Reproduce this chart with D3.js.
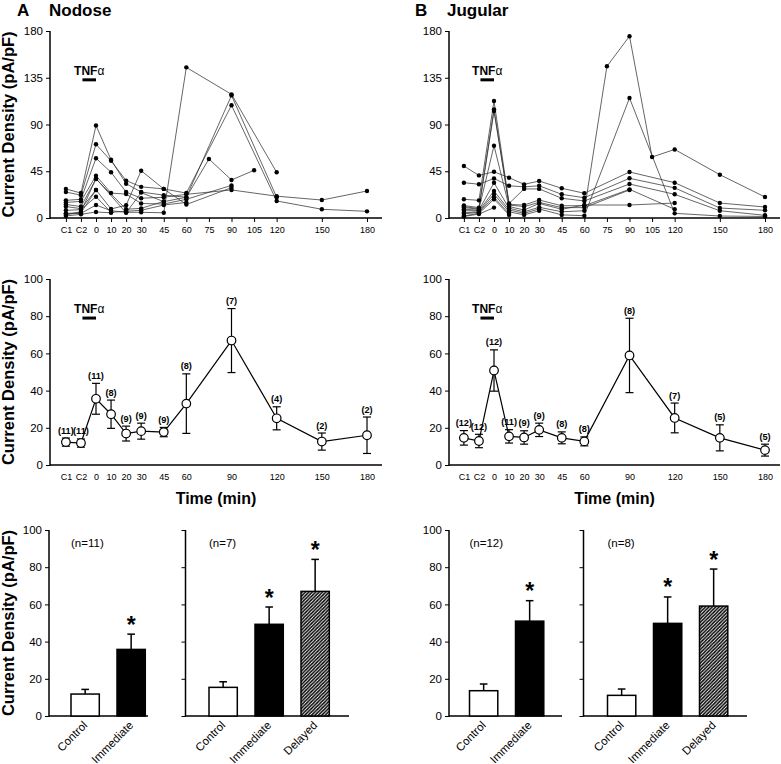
<!DOCTYPE html>
<html><head><meta charset="utf-8">
<script src="https://cdn.jsdelivr.net/npm/d3@7"></script>
<style>body{margin:0;background:#fff}svg{display:block;font-family:Arial,"Liberation Sans",sans-serif}</style>
</head><body><svg id="c" width="781" height="764"></svg>
<script>
// ---------- DATA ----------
const timeKeys = [-20,-10,0,10,20,30,45,60,75,90,105,120,150,180];
const topTickLabels = ["C1","C2","0","10","20","30","45","60","75","90","105","120","150","180"];
const meanTimes = [-20,-10,0,10,20,30,45,60,90,120,150,180];
const meanTickLabels = ["C1","C2","0","10","20","30","45","60","90","120","150","180"];
const topYTicks = [0,45,90,135,180];
const pctTicks = [0,20,40,60,80,100];

// individual cells (values at timeKeys; null = not recorded)
const nodoseCells = [
  [4,4.5,12.5,7,5.5,5.5,5,145,null,119,null,44,null,null],
  [28,24,89,56,33,25,22,20,null,118,null,20,null,null],
  [25,22,71,55,36,30,28,24,null,108.5,null,16.4,8.4,6.4],
  [17,18,57.5,44,25,19,20,22.8,null,27,null,21,17.3,26],
  [15,16,40.7,24,23,14,13.5,18,null,31.4,null,null,null,null],
  [11,9,27,8.7,12.3,45.5,28,13,null,29.2,null,null,null,null],
  [13,11,37.5,null,8.4,9.3,16,null,null,null,null,null,null,null],
  [7.4,8,20.5,5.5,6.5,7.4,12.5,15,null,null,null,null,null,null],
  [3,6,38,null,5,24.5,15.7,20,56.8,36.6,45.9,null,null,null],
  [2,3.5,5.8,5,null,null,null,null,null,null,null,null,null,null],
  [4.5,5,27,null,null,null,null,null,null,null,null,null,null,null]
];
const jugularCells = [
  [50,41,44.5,38.8,32.4,35.6,28.6,23.8,null,44.3,null,34,14.4,10.6],
  [34,32.5,38,31,30,31,22.8,19.5,null,38.2,null,29,9.6,7.4],
  [18,17,112.6,14,28,28,19,16.4,null,32.7,null,22.8,7,2.6],
  [12,10,104.6,13,12.5,17.3,11.8,11.8,null,27.6,null,8.4,null,null],
  [11,9,103,12.5,11,15,10,10,null,27,null,null,null,null],
  [10,8.5,69.6,11,7.7,14,8.4,12.5,null,12.5,null,14.4,null,null],
  [8.5,7.5,34,9.3,6,10.3,6,7,146,175,58.7,66,41.7,20.2],
  [7,7,26,7.7,4.5,8.7,3,2.2,null,115.5,null,4.5,1.9,1.5],
  [5,6,23,6,3,7,null,null,null,null,null,null,null,null],
  [4,5.5,20,4,null,null,null,null,null,null,null,null,null,null],
  [2,4.5,18,3,null,null,null,null,null,null,null,null,null,null],
  [1.5,3.8,10,null,null,null,null,null,null,null,null,null,null,null]
];

// means +/- SEM at meanTimes
const nodoseMean = [12.3,11.8,35.6,27.3,16.9,18.2,17.7,33,66.9,25.1,12.6,16];
const nodoseSem  = [2.2,2.2,8.3,7.6,4,4.3,2.5,16,17.2,6.2,4.6,9.8];
const nodoseN    = ["(11)","(11)","(11)","(8)","(9)","(9)","(9)","(8)","(7)","(4)","(2)","(2)"];
const jugularMean = [14.6,12.9,50.8,15.4,14.8,18.9,14.6,12.7,58.9,25.3,14.6,8];
const jugularSem  = [3.9,3.6,11.1,3.6,3.6,3.6,3.2,2.4,20,8,7,3.2];
const jugularN    = ["(12)","(12)","(12)","(11)","(9)","(9)","(8)","(8)","(8)","(7)","(5)","(5)"];

// summary bars
const cats2 = ["Control","Immediate"];
const cats3 = ["Control","Immediate","Delayed"];
const nodoseImmMean = [11.8,35.8];   const nodoseImmSem = [2.5,8.2];
const nodoseDelMean = [15.4,49.3,67]; const nodoseDelSem = [3,9.3,17.2];
const jugularImmMean = [13.6,51];    const jugularImmSem = [3.6,11];
const jugularDelMean = [11.1,49.8,59.1]; const jugularDelSem = [3.4,14.2,19.9];
const nLabels = ["(n=11)","(n=7)","(n=12)","(n=8)"];

// ---------- DRAW ----------
const svg = d3.select("#c");
const defs = svg.append("defs");
const pat = defs.append("pattern").attr("id","hatch").attr("patternUnits","userSpaceOnUse")
  .attr("width",3.4).attr("height",3.4);
pat.append("rect").attr("width",3.4).attr("height",3.4).attr("fill","#fff");
pat.append("path").attr("d","M-1,1 L1,-1 M0,3.4 L3.4,0 M2.4,4.4 L4.4,2.4")
  .attr("stroke","#000").attr("stroke-width",1.5);

const yTop = d3.scaleLinear([0,180],[218,31]);
const yMid = d3.scaleLinear([0,100],[465,279]);
const yBar = d3.scaleLinear([0,100],[716,530]);

function styleAxis(g, fs){
  g.select(".domain").remove();
  g.selectAll(".tick line").attr("stroke","#000").attr("stroke-width",1);
  g.selectAll(".tick text").attr("font-size",fs).attr("fill","#000").attr("font-family","Arial, 'Liberation Sans', sans-serif");
}
function yAxis(x0, scale, ticks, showLabels){
  const g = svg.append("g").attr("transform",`translate(${x0},0)`)
    .call(d3.axisLeft(scale).tickValues(ticks).tickSize(4).tickPadding(3).tickFormat(showLabels? d3.format("d") : ""));
  styleAxis(g, 11.5);
  const r = scale.range();
  svg.append("line").attr("x1",x0).attr("x2",x0).attr("y1",r[0]+0.75).attr("y2",r[1])
    .attr("stroke","#000").attr("stroke-width",1.5);
}
function xAxisLine(x0, x1, y){
  svg.append("line").attr("x1",x0).attr("x2",x1).attr("y1",y).attr("y2",y)
    .attr("stroke","#000").attr("stroke-width",1.5);
}
function yTitle(cy){
  svg.append("text").attr("transform",`translate(14,${cy}) rotate(-90)`)
    .attr("text-anchor","middle").attr("font-weight","bold").attr("font-size",16.5)
    .text("Current Density (pA/pF)");
}
function tnf(x, y, yval){
  const bx0 = x(-9), bx1 = x(0), by = y(yval);
  svg.append("rect").attr("x",bx0).attr("y",by-1.5).attr("width",bx1-bx0).attr("height",3).attr("fill","#000");
  const t = svg.append("text").attr("x",(bx0+bx1)/2).attr("y",by-5).attr("text-anchor","middle").attr("font-size",12);
  t.append("tspan").attr("font-weight","bold").text("TNF");
  t.append("tspan").text("α");
}

function topPanel(cells, xs, axX, axEnd){
  yAxis(axX, yTop, topYTicks, true);
  const gx = svg.append("g").attr("transform",`translate(0,${yTop(0)})`)
    .call(d3.axisBottom(xs).tickValues(timeKeys).tickSize(4).tickPadding(5).tickFormat((d,i)=>topTickLabels[i]));
  styleAxis(gx, 9);
  xAxisLine(axX, axEnd, yTop(0));
  const line = d3.line().defined(d=>d.v!=null).x(d=>xs(d.t)).y(d=>yTop(d.v));
  cells.forEach(c=>{
    const pts = c.map((v,i)=>({t:timeKeys[i], v})).filter(d=>d.v!=null);
    svg.append("path").datum(pts).attr("d",line).attr("fill","none").attr("stroke","#333").attr("stroke-width",0.75);
  });
  cells.forEach(c=>{
    const pts = c.map((v,i)=>({t:timeKeys[i], v})).filter(d=>d.v!=null);
    svg.append("g").selectAll("circle").data(pts).join("circle")
      .attr("cx",d=>xs(d.t)).attr("cy",d=>yTop(d.v)).attr("r",2.2).attr("fill","#000");
  });
  tnf(xs, yTop, 133);
}

function meanPanel(means, sems, ns, xs, axX, axEnd){
  yAxis(axX, yMid, pctTicks, true);
  const gx = svg.append("g").attr("transform",`translate(0,${yMid(0)})`)
    .call(d3.axisBottom(xs).tickValues(meanTimes).tickSize(0).tickPadding(8.5).tickFormat((d,i)=>meanTickLabels[i]));
  styleAxis(gx, 9);
  xAxisLine(axX, axEnd, yMid(0));
  const data = meanTimes.map((t,i)=>({t, m:means[i], s:sems[i], n:ns[i]}));
  const g = svg.append("g");
  data.forEach(d=>{
    const x = xs(d.t);
    g.append("line").attr("x1",x).attr("x2",x).attr("y1",yMid(d.m-d.s)).attr("y2",yMid(d.m+d.s)).attr("stroke","#000").attr("stroke-width",1.2);
    [d.m-d.s, d.m+d.s].forEach(v=>g.append("line").attr("x1",x-4).attr("x2",x+4).attr("y1",yMid(v)).attr("y2",yMid(v)).attr("stroke","#000").attr("stroke-width",1.2));
  });
  g.append("path").datum(data).attr("d",d3.line().x(d=>xs(d.t)).y(d=>yMid(d.m)))
    .attr("fill","none").attr("stroke","#000").attr("stroke-width",1.2);
  g.selectAll("circle").data(data).join("circle").attr("cx",d=>xs(d.t)).attr("cy",d=>yMid(d.m))
    .attr("r",4.3).attr("fill","#fff").attr("stroke","#000").attr("stroke-width",1.2);
  g.selectAll("text.n").data(data).join("text").attr("class","n")
    .attr("x",d=>xs(d.t)).attr("y",d=>yMid(d.m+d.s)-4.5).attr("text-anchor","middle")
    .attr("font-size",9.2).attr("font-weight","bold").text(d=>d.n);
  tnf(xs, yMid, 79);
  svg.append("text").attr("x",(axX+axEnd)/2).attr("y",503.5).attr("text-anchor","middle")
    .attr("font-size",16).attr("font-weight","bold").text("Time (min)");
}

function barPanel(cats, means, sems, axX, firstBar, axEnd, showLabels, nLabel){
  yAxis(axX, yBar, pctTicks, showLabels);
  xAxisLine(axX, axEnd, yBar(0));
  const step = 46, pin = 0.385;
  const xb = d3.scaleBand().domain(cats).range([firstBar, firstBar + step*(cats.length - pin)]).paddingInner(pin).paddingOuter(0);
  const fills = {Control:"#fff", Immediate:"#000", Delayed:"url(#hatch)"};
  const data = cats.map((c,i)=>({c, m:means[i], s:sems[i]}));
  const g = svg.append("g");
  data.forEach(d=>{
    const cx = xb(d.c) + xb.bandwidth()/2, top = yBar(d.m+d.s);
    g.append("line").attr("x1",cx).attr("x2",cx).attr("y1",yBar(d.m)).attr("y2",top).attr("stroke","#000").attr("stroke-width",1.5);
    g.append("line").attr("x1",cx-3.8).attr("x2",cx+3.8).attr("y1",top).attr("y2",top).attr("stroke","#000").attr("stroke-width",1.5);
    if(d.c!=="Control"){
      g.append("text").attr("x",cx).attr("y",top-1.5).attr("text-anchor","middle")
        .attr("font-size",23).attr("font-weight","bold").text("*");
    }
  });
  g.selectAll("rect").data(data).join("rect")
    .attr("x",d=>xb(d.c)).attr("width",xb.bandwidth())
    .attr("y",d=>yBar(d.m)).attr("height",d=>yBar(0)-yBar(d.m))
    .attr("fill",d=>fills[d.c]).attr("stroke","#000").attr("stroke-width",1.5);
  g.selectAll("text.cat").data(data).join("text").attr("class","cat")
    .attr("transform",d=>`translate(${xb(d.c)+xb.bandwidth()/2+3},${yBar(0)+10}) rotate(-45)`)
    .attr("text-anchor","end").attr("font-size",11.5).text(d=>d.c);
  svg.append("text").attr("x",firstBar).attr("y",yBar(100)+17).attr("font-size",11.5).text(nLabel);
}

// Titles
svg.append("text").attr("x",17).attr("y",15.5).attr("font-size",17).attr("font-weight","bold").text("A");
svg.append("text").attr("x",49).attr("y",15.5).attr("font-size",17).attr("font-weight","bold").text("Nodose");
svg.append("text").attr("x",415).attr("y",15.5).attr("font-size",17).attr("font-weight","bold").text("B");
svg.append("text").attr("x",447).attr("y",15.5).attr("font-size",17).attr("font-weight","bold").text("Jugular");

const xL = d3.scaleLinear([0,180],[96,367]);
const xR = d3.scaleLinear([0,180],[494,765]);

topPanel(nodoseCells, xL, 50, 382);
topPanel(jugularCells, xR, 449, 780);
meanPanel(nodoseMean, nodoseSem, nodoseN, xL, 50, 382);
meanPanel(jugularMean, jugularSem, jugularN, xR, 449, 780);

barPanel(cats2, nodoseImmMean, nodoseImmSem, 49, 71, 148, true, nLabels[0]);
barPanel(cats3, nodoseDelMean, nodoseDelSem, 185.5, 209, 349, false, nLabels[1]);
barPanel(cats2, jugularImmMean, jugularImmSem, 449, 469.5, 562, true, nLabels[2]);
barPanel(cats3, jugularDelMean, jugularDelSem, 583.5, 607.5, 747, false, nLabels[3]);

yTitle((yTop(0)+yTop(180))/2);
yTitle((yMid(0)+yMid(100))/2);
yTitle((yBar(0)+yBar(100))/2);
</script></body></html>
